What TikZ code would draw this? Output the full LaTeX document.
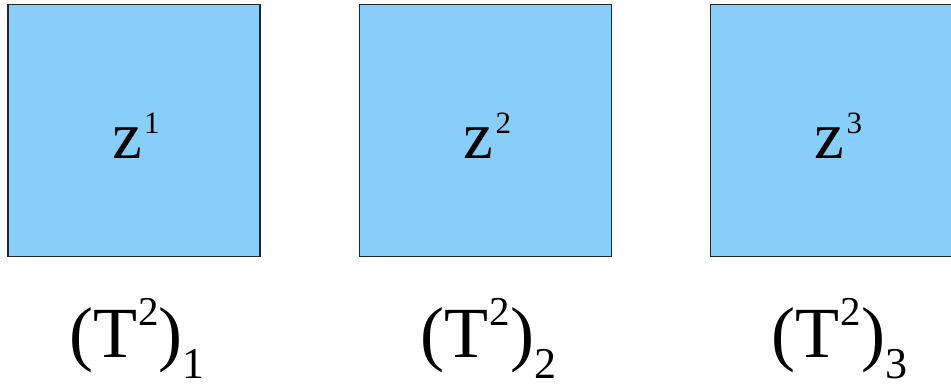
\documentclass[tikz,border=0pt]{standalone}
\usepackage{fontspec}
\setmainfont{Liberation Serif}
\usepackage{xcolor}
\usetikzlibrary{positioning}

\definecolor{boxblue}{RGB}{135,206,250}

\newcommand{\zlabel}[1]{{\fontsize{67}{67}\selectfont z\kern2pt\raisebox{25pt}{\fontsize{31}{31}\selectfont #1}}}
\newcommand{\tlabel}[1]{{\fontsize{72}{72}\selectfont (T\kern1pt\raisebox{32pt}{\fontsize{41}{41}\selectfont 2})\raisebox{-21pt}{\fontsize{44}{44}\selectfont #1}}}

\begin{document}
\begin{tikzpicture}[x=1pt,y=-1pt]
  \tikzset{
    cell/.style={draw=black!85,line width=1.2pt,fill=boxblue,minimum size=252pt,inner sep=0pt},
    txt/.style={anchor=base,inner sep=0pt}
  }
  \useasboundingbox (0,0) rectangle (951,386);
  \foreach \i/\x in {1/134,2/485.5,3/836.5}{
    \node[cell] (cell\i) at (\x,130.5) {};
    \node[txt] (z\i) at (\x+2,158) {\zlabel{\i}};
    \node[txt] (t\i) at (\x+3,357) {\tlabel{\i}};
  }
\end{tikzpicture}
\end{document}
